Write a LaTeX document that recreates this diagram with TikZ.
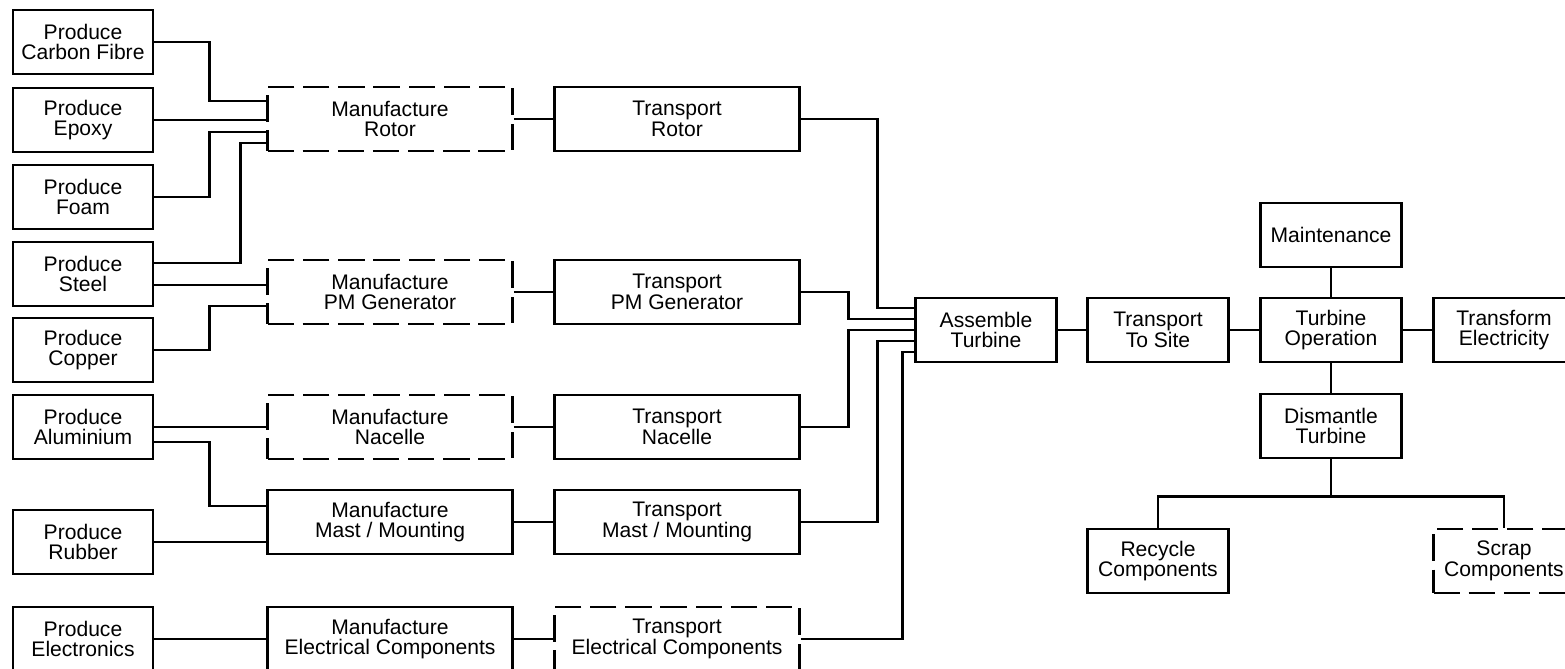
\documentclass[tikz,border=0pt]{standalone}
\usepackage{fontspec}
\setmainfont{Liberation Sans}
\usetikzlibrary{calc}

\begin{document}
\begin{tikzpicture}[x=0.02cm, y=-0.02cm, line width=1.5pt,
    every node/.style={draw, minimum width=2.82cm, minimum height=1.28cm, inner sep=0pt, align=center, font=\fontsize{12}{11.6}\selectfont},
    produce/.style={minimum width=2.8cm},
    wide/.style={minimum width=4.9cm},
    dashbox/.style={dash pattern=on 15pt off 5pt}]
      \useasboundingbox (0,0) rectangle (1565,669);

      % Nodes
      \node[produce] (carbon) at (83,42) {Produce\\Carbon Fibre};
      \node[produce] (epoxy) at (83,120) {Produce\\Epoxy};
      \node[produce] (foam) at (83,197) {Produce\\Foam};
      \node[produce] (steel) at (83,274) {Produce\\Steel};
      \node[produce] (copper) at (83,350) {Produce\\Copper};
      \node[produce] (aluminium) at (83,427) {Produce\\Aluminium};
      \node[produce] (rubber) at (83,542) {Produce\\Rubber};
      \node[produce] (electronics) at (83,639) {Produce\\Electronics};

      \node[wide, dashbox] (mrotor) at (390,119) {Manufacture\\Rotor};
      \node[wide, dashbox] (mgen) at (390,292) {Manufacture\\PM Generator};
      \node[wide, dashbox] (mnacelle) at (390,427) {Manufacture\\Nacelle};
      \node[wide] (mmast) at (390,522) {Manufacture\\Mast / Mounting};
      \node[wide] (melec) at (390,639) {Manufacture\\Electrical Components};

      \node[wide] (trotor) at (677,119) {Transport\\Rotor};
      \node[wide] (tgen) at (677,292) {Transport\\PM Generator};
      \node[wide] (tnacelle) at (677,427) {Transport\\Nacelle};
      \node[wide] (tmast) at (677,522) {Transport\\Mast / Mounting};
      \node[wide, dashbox] (telec) at (677,639) {Transport\\Electrical Components};

      \node (assemble) at (986,330) {Assemble\\Turbine};
      \node (tosite) at (1158,330) {Transport\\To Site};
      \node (operation) at (1331,330) {Turbine\\Operation};
      \node (transform) at (1504,330) {Transform\\Electricity};
      \node (maintenance) at (1331,235) {Maintenance};
      \node (dismantle) at (1331,426) {Dismantle\\Turbine};
      \node (recycle) at (1158,561) {Recycle\\Components};
      \node[dashbox] (scrap) at (1504,561) {Scrap\\Components};

      % Edges
      \draw (carbon.east) -- ++(55,0) |- ($(mrotor.west)+(0,-18)$);
      \draw (epoxy.east) -- (epoxy.east -| mrotor.west);
      \draw (foam.east) -- ++(55,0) |- ($(mrotor.west)+(0,13)$);
      \draw ($(steel.east)+(0,-11)$) -- ++(86,0) |- ($(mrotor.west)+(0,24)$);
      \draw ($(steel.east)+(0,11)$) -- ($(mgen.west)+(0,-7)$);
      \draw (copper.east) -- ++(55,0) |- ($(mgen.west)+(0,14)$);
      \draw (aluminium.east) -- (mnacelle.west);
      \draw ($(aluminium.east)+(0,15)$) -- ++(55,0) |- ($(mmast.west)+(0,-16)$);
      \draw (rubber.east) -- ($(mmast.west)+(0,20)$);
      \draw (electronics.east) -- (melec.west);

      \draw (mrotor) -- (trotor);
      \draw (mgen) -- (tgen);
      \draw (mnacelle) -- (tnacelle);
      \draw (mmast) -- (tmast);
      \draw (melec) -- (telec);

      \draw (trotor.east) -- ++(77,0) |- ($(assemble.west)+(0,-22)$);
      \draw (tgen.east) -- ++(48,0) |- ($(assemble.west)+(0,-11)$);
      \draw (tnacelle.east) -- ++(48,0) |- (assemble.west);
      \draw (tmast.east) -- ++(77,0) |- ($(assemble.west)+(0,11)$);
      \draw (telec.east) -- ++(102,0) |- ($(assemble.west)+(0,22)$);

      \draw (assemble) -- (tosite);
      \draw (tosite) -- (operation);
      \draw (operation) -- (transform);
      \draw (maintenance) -- (operation);
      \draw (operation) -- (dismantle);
      \draw (dismantle.south) -- ++(0,37) -| (recycle.north);
      \draw (dismantle.south) -- ++(0,37) -| (scrap.north);
    \end{tikzpicture}
\end{document}
